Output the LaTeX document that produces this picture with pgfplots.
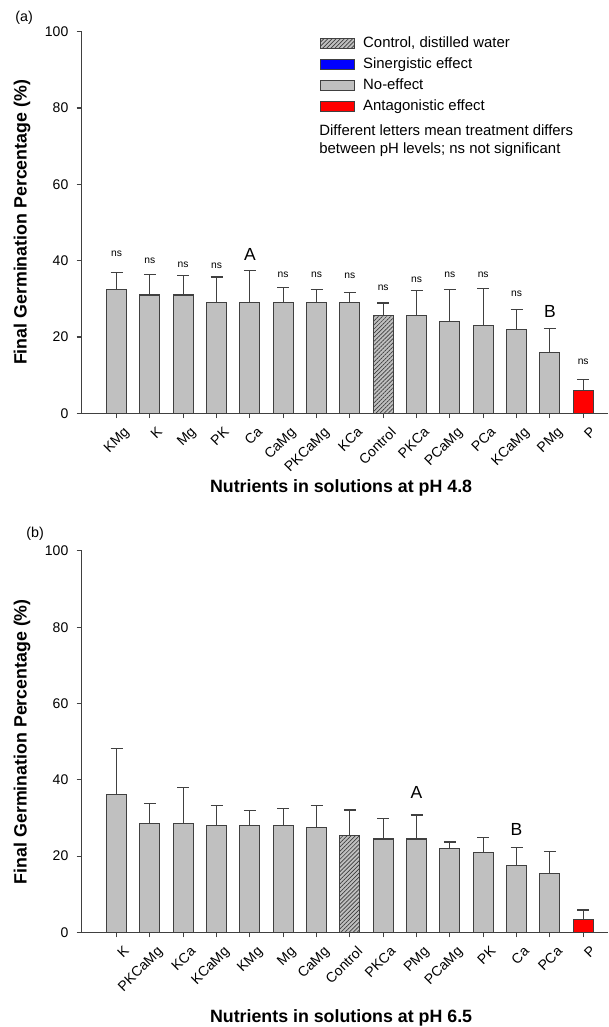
\documentclass[border=0pt]{standalone}
\usepackage{fontspec}
\setmainfont{Liberation Sans}
\usepackage{pgfplots}
\usepackage{pgfplotstable}
\pgfplotsset{compat=1.18}
\usetikzlibrary{patterns.meta}
\definecolor{barGray}{RGB}{192,192,192}
\definecolor{edge}{RGB}{64,64,64}
\definecolor{hatch}{RGB}{60,60,60}

% pH 4.8: x value err(upper)
\pgfplotstableread{
x y e
0 32.5 4.4
1 31.0 5.3
2 31.0 5.1
3 29.0 6.7
4 29.0 8.5
5 29.0 3.9
6 29.0 3.5
7 29.0 2.6
9 25.6 6.5
10 24.0 8.4
11 23.0 9.7
12 22.0 5.2
13 16.0 6.3
}\graya
\pgfplotstableread{
x y e
8 25.6 3.3
}\ctrla
\pgfplotstableread{
x y e
14 5.9 2.9
}\reda

% pH 6.5
\pgfplotstableread{
x y e
0 36.1 12.1
1 28.6 5.2
2 28.6 9.5
3 28.1 5.2
4 28.1 3.9
5 28.1 4.3
6 27.5 5.8
8 24.5 5.3
9 24.5 6.3
10 22.0 1.7
11 21.0 3.8
12 17.5 4.8
13 15.5 5.8
}\grayb
\pgfplotstableread{
x y e
7 25.5 6.6
}\ctrlb
\pgfplotstableread{
x y e
14 3.4 2.5
}\redb

\pgfplotsset{
  myax/.style={
    scale only axis, width=526.5pt, height=381.6pt,
    xmin=-1.05, xmax=14.744, ymin=0, ymax=100,
    axis x line*=bottom, axis y line*=left,
    axis line style={edge, line width=1.2pt, -},
    ytick={0,20,...,100}, xtick={0,...,14},
    tick align=outside, major tick length=5pt,
    tick style={edge, line width=1.2pt},
    ybar, bar width=20pt,
    /pgf/number format/assume math mode=true,
    yticklabel style={font=\fontsize{14}{16}\selectfont, inner sep=2pt, xshift=-6pt},
    xticklabel style={font=\fontsize{14}{16}\selectfont, rotate=45, anchor=north east, inner sep=1pt, yshift=-9pt},
    xlabel style={font=\fontsize{17.8}{20}\bfseries\selectfont, anchor=center},
    ylabel style={font=\fontsize{17.8}{20}\bfseries\selectfont, at={(axis description cs:-0.113,0.5)}, anchor=center},
    ylabel={Final Germination Percentage (\%)},
    clip=false,
  },
  graybar/.style={fill=barGray, draw=edge, line width=1.2pt, bar shift=0pt,
    error bars/y dir=plus, error bars/y explicit,
    error bars/error bar style={edge, line width=1.2pt},
    error bars/error mark options={rotate=90, edge, line width=1.2pt, mark size=6pt}},
  hatchbar/.style={fill=barGray, draw=edge, line width=1.2pt,
    postaction={pattern={Lines[angle=45,distance=2.9pt,line width=0.7pt]}, pattern color=hatch}},
  redbar/.style={fill=red, draw=edge, line width=1.2pt},
  legimg/.style={legend image code/.code={\draw[##1, line width=1pt] (0pt,-5pt) rectangle (34pt,5pt);}},
}

\begin{document}
\begin{tikzpicture}[x=1pt,y=1pt]
\useasboundingbox (0,0) rectangle (608,1027);

% ---------------- (a) pH 4.8 ----------------
\begin{axis}[myax,
  at={(81.5pt,613.7pt)}, anchor=south west,
  xticklabels={KMg,K,Mg,PK,Ca,CaMg,PKCaMg,KCa,Control,PKCa,PCaMg,PCa,KCaMg,PMg,P},
  xlabel={Nutrients in solutions at pH 4.8},
  xlabel style={at={(axis description cs:0.493,-0.196)}},
  legend style={at={(axis description cs:0.453,0.9887)}, anchor=north west,
    draw=none, fill=none, inner sep=0pt, row sep=7pt,
    font=\fontsize{14.9}{17}\selectfont,
    nodes={inner sep=0pt, text height=11pt, text depth=3pt}},
  legend cell align=left,
]
\addplot[graybar, forget plot] table[x=x, y=y, y error=e] {\graya};
\addplot[graybar, forget plot, postaction={pattern={Lines[angle=45,distance=2.9pt,line width=0.7pt]}, pattern color=hatch}] table[x=x, y=y, y error=e] {\ctrla};
\addplot[graybar, forget plot, fill=red] table[x=x, y=y, y error=e] {\reda};

\addlegendimage{legimg, hatchbar}
\addlegendentry{\hspace{8pt}Control, distilled water}
\addlegendimage{legimg, fill=blue, draw=edge}
\addlegendentry{\hspace{8pt}Sinergistic effect}
\addlegendimage{legimg, fill=barGray, draw=edge}
\addlegendentry{\hspace{8pt}No-effect}
\addlegendimage{legimg, redbar}
\addlegendentry{\hspace{8pt}Antagonistic effect}

\node[anchor=north west, align=left, inner sep=0pt, font=\fontsize{14.9}{18}\selectfont]
  at (axis description cs:0.4515,0.7576) {Different letters mean treatment differs\\between pH levels; ns not significant};

\node[font=\fontsize{14.3}{16}\selectfont] at (axis description cs:-0.109,1.0375) {(a)};

\begin{scope}[font=\fontsize{10.3}{12}\selectfont]
\node at (axis cs:0,41.7) {ns};
\node at (axis cs:1,40.0) {ns};
\node at (axis cs:2,38.9) {ns};
\node at (axis cs:3,38.7) {ns};
\node at (axis cs:5,36.2) {ns};
\node at (axis cs:6,36.2) {ns};
\node at (axis cs:7,36.0) {ns};
\node at (axis cs:8,33.0) {ns};
\node at (axis cs:9,35.1) {ns};
\node at (axis cs:10,36.3) {ns};
\node at (axis cs:11,36.3) {ns};
\node at (axis cs:12,31.3) {ns};
\node at (axis cs:14,13.5) {ns};
\end{scope}
\node[font=\fontsize{17.5}{19}\selectfont] at (axis cs:4,41.5) {A};
\node[font=\fontsize{17.5}{19}\selectfont] at (axis cs:13,26.8) {B};
\end{axis}

% ---------------- (b) pH 6.5 ----------------
\begin{axis}[myax,
  at={(81.5pt,94.5pt)}, anchor=south west,
  xticklabels={K,PKCaMg,KCa,KCaMg,KMg,Mg,CaMg,Control,PKCa,PMg,PCaMg,PK,Ca,PCa,P},
  xlabel={Nutrients in solutions at pH 6.5},
  xlabel style={at={(axis description cs:0.493,-0.225)}},
]
\addplot[graybar] table[x=x, y=y, y error=e] {\grayb};
\addplot[graybar, postaction={pattern={Lines[angle=45,distance=2.9pt,line width=0.7pt]}, pattern color=hatch}] table[x=x, y=y, y error=e] {\ctrlb};
\addplot[graybar, fill=red] table[x=x, y=y, y error=e] {\redb};

\node[font=\fontsize{14.3}{16}\selectfont] at (axis description cs:-0.088,1.0456) {(b)};
\node[font=\fontsize{17.5}{19}\selectfont] at (axis cs:9,36.8) {A};
\node[font=\fontsize{17.5}{19}\selectfont] at (axis cs:12,27.1) {B};
\end{axis}
\end{tikzpicture}
\end{document}
